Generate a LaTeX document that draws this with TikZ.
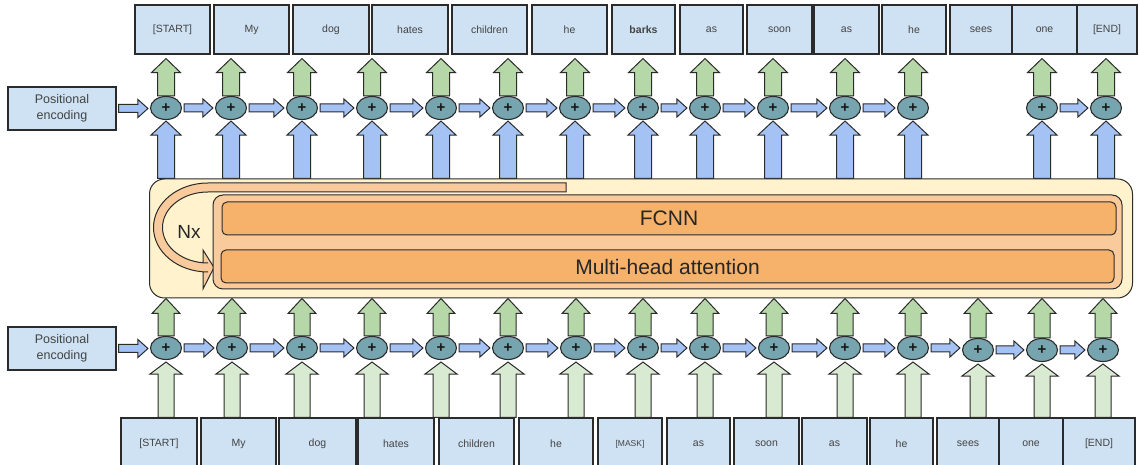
\documentclass[tikz,border=0pt]{standalone}
\usepackage{fontspec}
\setmainfont{Liberation Sans}
\usetikzlibrary{calc,backgrounds,shapes.geometric}
\definecolor{boxblue}{HTML}{CFE2F3}
\definecolor{arrblue}{HTML}{A4C2F4}
\definecolor{dgreen}{HTML}{B6D7A8}
\definecolor{lgreen}{HTML}{D9EAD3}
\definecolor{plusteal}{HTML}{76A5AF}
\definecolor{ylw}{HTML}{FFF2CC}
\definecolor{peach}{HTML}{F9CB9C}
\definecolor{orng}{HTML}{F6B26B}
\definecolor{edge}{HTML}{2B2B2B}
\definecolor{txt}{HTML}{434343}
\begin{document}
\begin{tikzpicture}[x=1pt,y=1pt,
  tok/.style={draw=edge, line width=1.1pt, fill=boxblue, inner sep=0pt, text=txt, font=\fontsize{10.5}{12}\selectfont},
  pebox/.style={draw=edge, line width=1.1pt, fill=boxblue, inner sep=0pt, text=txt, align=center, minimum width=108pt, minimum height=43pt, font=\fontsize{12.5}{16}\selectfont},
  plus/.style={ellipse, draw=edge, line width=1.1pt, fill=plusteal, minimum width=31pt, minimum height=23pt, inner sep=0pt, text=black!90, font=\fontsize{15}{15}\selectfont\bfseries},
  arr/.style={draw=edge, line width=1pt, line join=miter},
  layer/.style={draw=edge, line width=1pt, fill=orng, rounded corners=5pt, minimum width=894pt, minimum height=33pt, inner sep=0pt, text=black!85, font=\fontsize{21}{24}\selectfont},
  fatup/.style n args={3}{to path={let \p1=(\tikztostart), \p2=(\tikztotarget) in
     (\x1-#1pt,\y1) -- (\x1-#1pt,\y2-#3pt) -- (\x1-#2pt,\y2-#3pt) -- (\x1,\y2) -- (\x1+#2pt,\y2-#3pt) -- (\x1+#1pt,\y2-#3pt) -- (\x1+#1pt,\y1) -- cycle}},
  fatright/.style n args={3}{to path={let \p1=(\tikztostart), \p2=(\tikztotarget) in
     (\x1+2pt,\y1-#1pt) -- (\x2-2pt-#3pt,\y1-#1pt) -- (\x2-2pt-#3pt,\y1-#2pt) -- (\x2-2pt,\y1) -- (\x2-2pt-#3pt,\y1+#2pt) -- (\x2-2pt-#3pt,\y1+#1pt) -- (\x1+2pt,\y1+#1pt) -- cycle}}
]
\useasboundingbox (0,0) rectangle (1140,465);

% ---------- top tokens ----------
\foreach \k/\l/\r/\t in {1/135/210/{[START]},2/214/289/My,3/293/369/dog,4/372/448/hates,5/452/527/children,6/532/607/he,7/612/675/{\textbf{barks}},8/680/743/as,9/747/812/soon,10/814/879/as,11/882/946/he,12/950/1012/sees,13/1012/1077/one,14/1077/1137/{[END]}}
  \node[tok, minimum width={(\r-\l)*1pt}, minimum height=49pt] (t\k) at ({(\l+\r)/2},435.5) {\t};

% ---------- bottom tokens ----------
\foreach \k/\l/\r/\t in {1/121/197/{[START]},2/201/276/My,3/279/356/dog,4/358/434/hates,5/439/514/children,6/519/593/he,7/598/662/{\fontsize{8.5}{10}\selectfont[MASK]},8/667/730/as,9/734/799/soon,10/802/867/as,11/870/933/he,12/937/999/sees,13/999/1063/one,14/1063/1135/{[END]}}
  \node[tok, minimum width={(\r-\l)*1pt}, minimum height=52pt] (b\k) at ({(\l+\r)/2},21) {\t};

% ---------- positional encodings ----------
\node[pebox] (pe1) at (62,356.5) {Positional\\encoding};
\node[pebox] (pe2) at (62,116.5) {Positional\\encoding};

% ---------- sum nodes ----------
\foreach \k/\u in {1/166,2/231,3/302,4/372,5/441,6/508,7/575,8/643,9/705,10/773,11/845,12/913,13/1042,14/1106}
  \node[plus] (e\k) at (\u,357) {+};
\foreach \k/\u/\v in {1/166/117,2/232/117,3/302/117,4/372/117,5/441/117,6/508/117,7/576/117,8/643/117,9/705/117,10/774/117,11/845/117,12/913/117,13/978/115,14/1042/115,15/1103/115}
  \node[plus] (f\k) at (\u,\v) {+};

% ---------- encoder stack ----------
\node[draw=edge, line width=1pt, fill=ylw, rounded corners=15pt, minimum width=983pt, minimum height=119pt, inner sep=0pt] (stack) at (641,226.5) {};
\draw[arr, fill=peach] (566,282) -- (208,282) arc[start angle=90, end angle=270, x radius=54.5, y radius=44.5]
  -- (203,193) -- (203,176) -- (214,197.5) -- (203,215) -- (203,202) -- (208,202)
  arc[start angle=270, end angle=90, x radius=45.5, y radius=35.5] -- (566,273) -- cycle;
\node[text=black!85, font=\fontsize{19}{22}\selectfont] (nx) at (189,233) {Nx};
\node[draw=edge, line width=1pt, fill=peach, rounded corners=10pt, minimum width=909pt, minimum height=94pt, inner sep=0pt] (core) at (667.5,223) {};
\node[layer] (fcnn) at (669,246.5) {FCNN};
\node[layer, minimum width=893pt] (mha) at (667.5,198.5) {Multi-head attention};

% ---------- arrow end points ----------
\foreach \k in {1,...,14} {
  \coordinate (gt\k) at ($(t1.south -| e\k.north)+(0,-4)$);
  \coordinate (bs\k) at (e\k.south |- stack.north);
  \coordinate (bt\k) at ($(e\k.south)+(0,-1)$);
}
\foreach \k in {1,...,15} {
  \coordinate (ls\k) at (f\k.south |- b1.north);
  \coordinate (lt\k) at ($(f\k.south)+(0,-2)$);
  \coordinate (dt\k) at (f\k.north |- stack.south);
}

% ---------- arrows ----------
\begin{pgfonlayer}{background}
\foreach \k in {1,...,14} {
  \draw[arr, fill=dgreen] (e\k.north) to[fatup={8.5}{14.5}{14}] (gt\k);
  \draw[arr, fill=arrblue] (bs\k) to[fatup={8.5}{15}{14}] (bt\k);
}
\foreach \a/\b in {pe1/e1,e1/e2,e2/e3,e3/e4,e4/e5,e5/e6,e6/e7,e7/e8,e8/e9,e9/e10,e10/e11,e11/e12,e13/e14}
  \draw[arr, fill=arrblue] (\a.east) to[fatright={4}{9}{10}] (\b.west);
\foreach \k in {1,...,15} {
  \draw[arr, fill=lgreen] (ls\k) to[fatup={8}{16}{12}] (lt\k);
  \draw[arr, fill=dgreen] (f\k.north) to[fatup={8}{14}{15}] (dt\k);
}
\foreach \a/\b in {pe2/f1,f1/f2,f2/f3,f3/f4,f4/f5,f5/f6,f6/f7,f7/f8,f8/f9,f9/f10,f10/f11,f11/f12,f12/f13,f13/f14,f14/f15}
  \draw[arr, fill=arrblue] (\a.east) to[fatright={4}{9}{10}] (\b.west);
\end{pgfonlayer}
\end{tikzpicture}
\end{document}
